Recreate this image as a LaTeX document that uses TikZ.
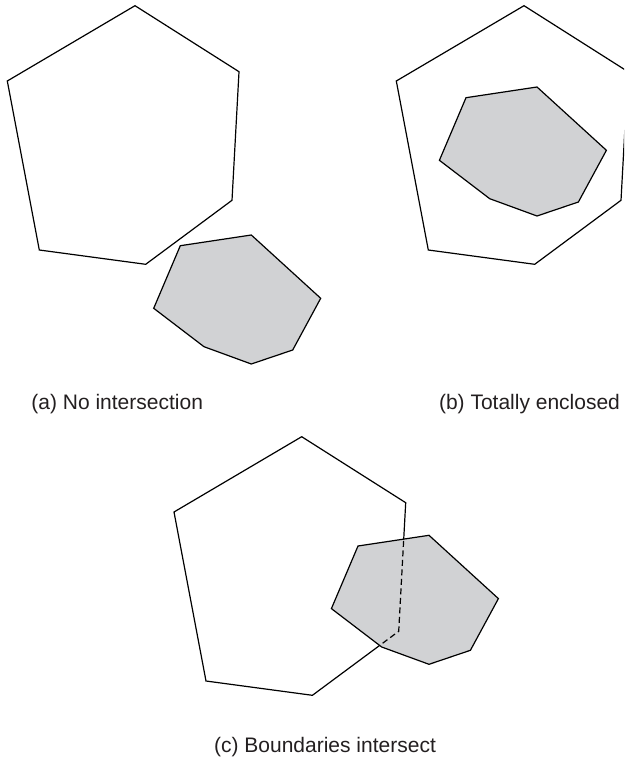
\documentclass[tikz,border=0pt]{standalone}
\usepackage{fontspec}
\setmainfont{Liberation Sans}
\definecolor{polygray}{RGB}{209,210,212}
\definecolor{captext}{RGB}{35,31,32}
\begin{document}
\begin{tikzpicture}[x=1pt,y=-1pt,
  outline/.style={line width=1.2pt, line join=miter},
  blob/.style={fill=polygray, draw=black, line width=1.2pt, line join=miter},
  hidden/.style={line width=1.2pt, dash pattern=on 6pt off 3.5pt},
  caption/.style={font=\fontsize{21}{25}\selectfont, anchor=base, text=captext, inner sep=0pt}]
\useasboundingbox (0,0) rectangle (624,759);
\clip (0,0) rectangle (624,759);
\def\hexpath{(135,5.7) -- (239,71.7) -- (232,200.3) -- (145.7,264.3) -- (39.3,250) -- (7.3,81) -- cycle}
\def\blobpath{(180.3,245.7) -- (251.3,235) -- (320.7,298.3) -- (292.7,350) -- (251.3,364) -- (204,346.7) -- (153.7,308.3) -- cycle}
% (a) no intersection
\draw[outline] \hexpath;
\draw[blob] \blobpath;
% (b) totally enclosed
\begin{scope}[shift={(389,0)}]
  \draw[outline] \hexpath;
\end{scope}
\begin{scope}[shift={(285.7,-148)}]
  \draw[blob] \blobpath;
\end{scope}
% (c) boundaries intersect
\begin{scope}[shift={(166.7,431)}]
  \draw[outline] \hexpath;
\end{scope}
\begin{scope}[shift={(177.7,300.3)}]
  \draw[blob] \blobpath;
\end{scope}
\begin{scope}
  \begin{scope}[shift={(177.7,300.3)}]
    \clip \blobpath;
    \begin{scope}[shift={(-11,130.7)}]
      \draw[hidden] \hexpath;
    \end{scope}
  \end{scope}
\end{scope}
% captions
\node[caption] (capa) at (117.2,409) {(a) No intersection};
\node[caption] (capb) at (529.5,409) {(b) Totally enclosed};
\node[caption] (capc) at (325,752) {(c) Boundaries intersect};
\end{tikzpicture}
\end{document}
